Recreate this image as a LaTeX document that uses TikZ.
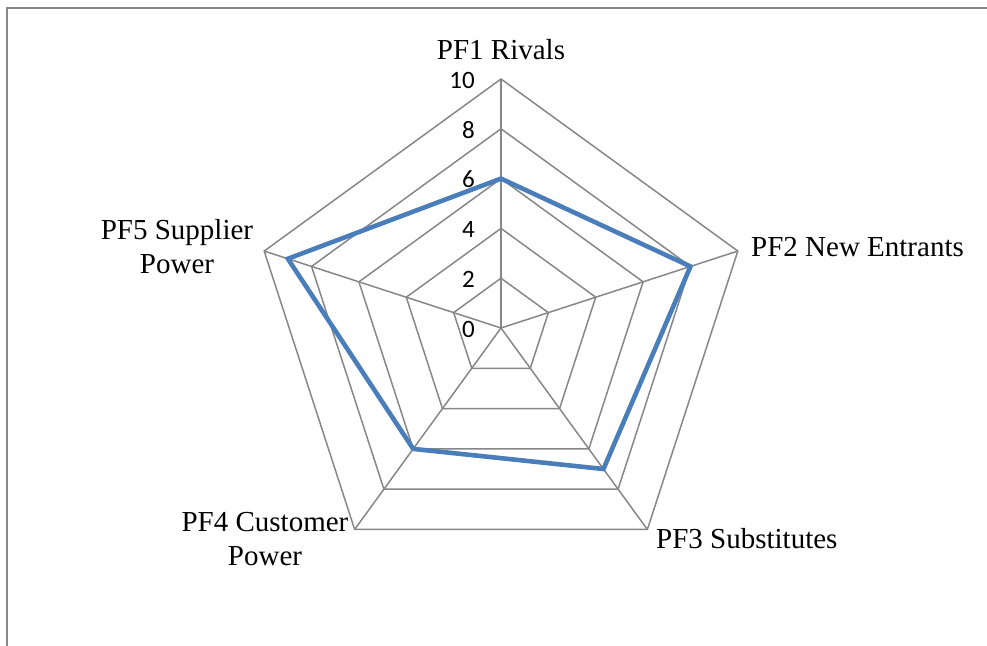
\documentclass[tikz,border=0pt]{standalone}
\usepackage{fontspec}
\setmainfont{Liberation Serif}
\newfontfamily\tickfont{Carlito}
\usetikzlibrary{calc}
\definecolor{gridgray}{HTML}{878787}
\definecolor{seriesblue}{HTML}{4A7EBB}
\definecolor{framegray}{HTML}{898989}
\tikzset{
  gridline/.style={draw=gridgray, line width=1.5pt, line join=miter},
  axisline/.style={draw=gridgray, line width=2.3pt},
  series/.style={draw=seriesblue, line width=4.6pt, line join=miter},
  lbl/.style={font=\fontsize{29}{34}\selectfont, inner sep=0pt},
  ticklbl/.style={font=\tickfont\fontsize{25}{28}\selectfont, inner sep=0pt, anchor=east},
}
\begin{document}
\begin{tikzpicture}[x=1pt,y=-1pt]
\useasboundingbox (0,0) rectangle (987,645);
% frame
\draw[draw=framegray, line width=2pt] (7,646) -- (7,7.5) -- (988,7.5);
\coordinate (c) at (501,328);
% grid pentagons
\foreach \k in {1,...,5}{
  \pgfmathsetmacro{\r}{49.8*\k}
  \draw[gridline] ($(c)+(90:\r pt)$) -- ($(c)+(18:\r pt)$) -- ($(c)+(-54:\r pt)$) -- ($(c)+(-126:\r pt)$) -- ($(c)+(162:\r pt)$) -- cycle;
}
% vertices
\coordinate (v1) at ($(c)+(90:249pt)$);
\coordinate (v2) at ($(c)+(18:249pt)$);
\coordinate (v3) at ($(c)+(-54:249pt)$);
\coordinate (v4) at ($(c)+(-126:249pt)$);
\coordinate (v5) at ($(c)+(162:249pt)$);
% spokes
\draw[gridline] (c) -- (v2);
\draw[gridline] (c) -- (v3);
\draw[gridline] (c) -- (v4);
\draw[gridline] (c) -- (v5);
\draw[axisline] (c) -- (v1);
% data
\coordinate (d1) at ($(c)+(90:149.4pt)$);
\coordinate (d2) at ($(c)+(18:199.2pt)$);
\coordinate (d3) at ($(c)+(-54:174.3pt)$);
\coordinate (d4) at ($(c)+(-126:149.4pt)$);
\coordinate (d5) at ($(c)+(162:224.1pt)$);
\draw[series] (d1) -- (d2) -- (d3) -- (d4) -- (d5) -- cycle;
% tick labels
\node[ticklbl] (t0) at (475,329) {0};
\node[ticklbl] (t2) at (475,279.2) {2};
\node[ticklbl] (t4) at (475,229.4) {4};
\node[ticklbl] (t6) at (475,179.6) {6};
\node[ticklbl] (t8) at (475,129.8) {8};
\node[ticklbl] (t10) at (475,80) {10};
% category labels
\node[lbl, anchor=base] (pf1) at (501,59) {PF1 Rivals};
\node[lbl, anchor=base west] (pf2) at (751,256) {PF2 New Entrants};
\node[lbl, anchor=base west] (pf3) at (656,548) {PF3 Substitutes};
\node[lbl, align=center, anchor=base] (pf4) at (265,565) {PF4 Customer\\Power};
\node[lbl, align=center, anchor=base] (pf5) at (177,273) {PF5 Supplier\\Power};
\end{tikzpicture}
\end{document}
